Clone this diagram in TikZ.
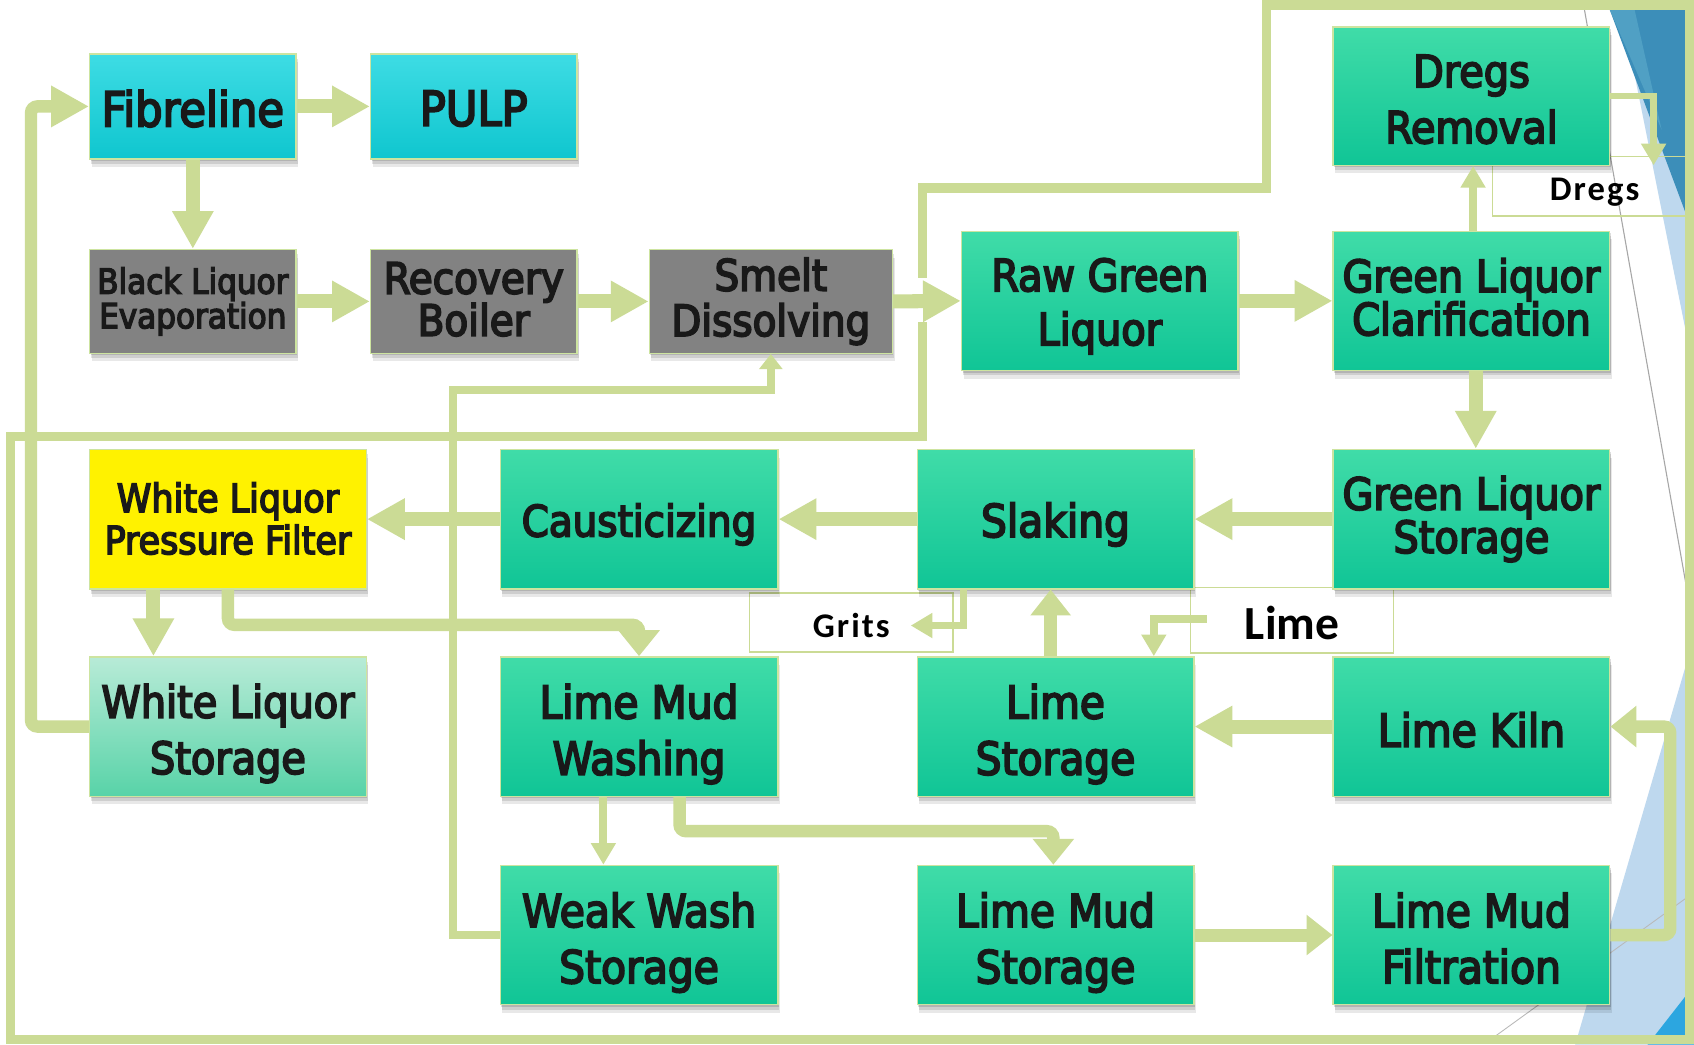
\documentclass[tikz,border=0pt]{standalone}
\usepackage{fontspec}
\usetikzlibrary{arrows.meta,shadows,calc}
\newfontfamily\boxfont{DejaVu Sans Condensed}[FakeBold=4]
\newfontfamily\lblfont{Carlito}[LetterSpace=6]
\newfontfamily\lblfontn{Carlito}
\newcommand\fs[2]{\boxfont\fontsize{#1}{#2}\selectfont}
\definecolor{lc}{RGB}{203,219,149}
\definecolor{bord}{RGB}{205,228,160}
\definecolor{tealtop}{RGB}{64,220,168}
\definecolor{tealbot}{RGB}{16,197,150}
\definecolor{cyantop}{RGB}{62,220,228}
\definecolor{cyanbot}{RGB}{15,198,207}
\definecolor{grayfill}{RGB}{130,130,130}
\definecolor{wltop}{RGB}{184,235,215}
\definecolor{wlbot}{RGB}{88,211,168}
\definecolor{dkblue}{RGB}{60,142,185}
\definecolor{mdblue}{RGB}{80,160,196}
\definecolor{ltblue}{RGB}{190,216,238}
\definecolor{brblue}{RGB}{44,166,224}
\definecolor{txtc}{RGB}{25,25,25}
\tikzset{
  shd/.style={
    general shadow={fill=black,opacity=.13,shadow xshift=1pt,shadow yshift=-2pt},
    general shadow={fill=black,opacity=.11,shadow xshift=1.5pt,shadow yshift=-4.5pt},
    general shadow={fill=black,opacity=.09,shadow xshift=2pt,shadow yshift=-7.5pt}},
  box/.style={rectangle, draw=bord, line width=1.3pt, inner sep=0pt, shd},
  tealbox/.style={box, top color=tealtop, bottom color=tealbot},
  cyanbox/.style={box, top color=cyantop, bottom color=cyanbot},
  graybox/.style={box, fill=grayfill},
  yelbox/.style={box, fill=yellow},
  wlbox/.style={box, top color=wltop, bottom color=wlbot},
  txt/.style={align=center, inner sep=0pt, text=txtc},
  lblbox/.style={rectangle, draw=lc, line width=1.3pt, inner sep=0pt},
  lbltext/.style={anchor=base, inner sep=0pt, text=black},
  conn/.style={draw=lc},
  thk/.style={conn, line width=13pt, -{Triangle[width=36pt,length=35pt]}},
  thks/.style={conn, line width=12pt, -{Triangle[width=36pt,length=24pt]}},
  med/.style={conn, line width=11.5pt, rounded corners=6pt, -{Triangle[width=37pt,length=24pt]}},
  thn/.style={conn, line width=7.5pt, -{Triangle[width=22pt,length=20pt]}},
  wwc/.style={conn, line width=7.5pt, -{Triangle[width=21pt,length=14pt]}},
  loopl/.style={draw=lc, line width=8.5pt},
}
\begin{document}
\begin{tikzpicture}[x=1pt,y=-1pt]
\useasboundingbox (0,0) rectangle (1568,967);
\fill[white] (0,0) rectangle (1568,967);
% background decorations
\fill[ltblue] (1501,9) -- (1568,9) -- (1568,345) -- cycle;
\fill[dkblue] (1490,9) -- (1568,9) -- (1568,218) -- cycle;
\fill[mdblue] (1490,9) -- (1513,9) -- (1538,120) -- cycle;
\fill[ltblue] (1568,590) -- (1568,967) -- (1458,967) -- cycle;
\fill[brblue] (1525,967) -- (1568,967) -- (1568,912) -- cycle;
\draw[gray!70, line width=1pt] (1465,0) -- (1568,583);
\draw[gray!55, line width=0.8pt] (1380,962) -- (1568,826);
% label boxes
\node[lblbox, minimum width=188pt, minimum height=54.6pt] (gritsbox) at (788,576.3) {};
\node[lblbox, minimum width=188pt, minimum height=60.6pt] (limebox) at (1196,574.3) {};
\node[lblbox, minimum width=180pt, minimum height=55pt] (dregsbox) at (1471.6,172.5) {};
% main boxes
\node[cyanbox, minimum width=191pt, minimum height=97pt] (fib) at (178.5,98.5) {};
\node[cyanbox, minimum width=191pt, minimum height=97pt] (pulp) at (438.5,98.5) {};
\node[graybox, minimum width=191pt, minimum height=96pt] (ble) at (178.5,279) {};
\node[graybox, minimum width=191pt, minimum height=96pt] (rb) at (438.5,279) {};
\node[graybox, minimum width=225pt, minimum height=96pt] (sd) at (713.5,279) {};
\node[tealbox, minimum width=256pt, minimum height=129pt] (rgl) at (1018,278.5) {};
\node[tealbox, minimum width=256pt, minimum height=129pt] (glc) at (1362,278.5) {};
\node[tealbox, minimum width=256pt, minimum height=128pt] (dregs) at (1362,89) {};
\node[tealbox, minimum width=256pt, minimum height=129pt] (gls) at (1362,480.5) {};
\node[tealbox, minimum width=256pt, minimum height=129pt] (slak) at (977,480.5) {};
\node[tealbox, minimum width=257pt, minimum height=129pt] (caus) at (591.5,480.5) {};
\node[yelbox, minimum width=256pt, minimum height=129pt] (wlpf) at (211,480.5) {};
\node[wlbox, minimum width=256pt, minimum height=129pt] (wls) at (211,672.5) {};
\node[tealbox, minimum width=257pt, minimum height=129pt] (lmw) at (591.5,672.5) {};
\node[tealbox, minimum width=256pt, minimum height=129pt] (ls) at (977,672.5) {};
\node[tealbox, minimum width=256pt, minimum height=129pt] (lk) at (1362,672.5) {};
\node[tealbox, minimum width=257pt, minimum height=129pt] (wws) at (591.5,865.5) {};
\node[tealbox, minimum width=256pt, minimum height=129pt] (lms) at (977,865.5) {};
\node[tealbox, minimum width=256pt, minimum height=129pt] (lmf) at (1362,865.5) {};
% box texts
\node[txt, font=\fs{44.5}{44.5}] (fibt) at (178.5,100.5) {Fibreline};
\node[txt, font=\fs{44.5}{44.5}] (pulpt) at (438.5,100.5) {PULP};
\node[txt, font=\fs{32}{32}] (blet) at (178.5,279) {Black Liquor\\Evaporation};
\node[txt, font=\fs{40}{39}] (rbt) at (438.5,277) {Recovery\\Boiler};
\node[txt, font=\fs{40}{42}] (sdt) at (713.5,279) {Smelt\\Dissolving};
\node[txt, font=\fs{41}{50}] (rglt) at (1018,283.5) {Raw Green\\Liquor};
\node[txt, font=\fs{41}{40}] (glct) at (1362,275) {Green Liquor\\Clarification};
\node[txt, font=\fs{41}{52}] (dregst) at (1362,92) {Dregs\\Removal};
\node[txt, font=\fs{41}{40}] (glst) at (1362,480.5) {Green Liquor\\Storage};
\node[txt, font=\fs{42}{42}] (slakt) at (977,485.5) {Slaking};
\node[txt, font=\fs{40}{40}] (caust) at (591.5,485.5) {Causticizing};
\node[txt, font=\fs{36}{39}] (wlpft) at (211,480) {White Liquor\\Pressure Filter};
\node[txt, font=\fs{41}{52}] (wlst) at (211,679) {White Liquor\\Storage};
\node[txt, font=\fs{42}{52}] (lmwt) at (591.5,679.5) {Lime Mud\\Washing};
\node[txt, font=\fs{42}{52}] (lst) at (977,679.5) {Lime\\Storage};
\node[txt, font=\fs{42}{42}] (lkt) at (1362,675.5) {Lime Kiln};
\node[txt, font=\fs{42}{52}] (wwst) at (591.5,872.5) {Weak Wash\\Storage};
\node[txt, font=\fs{42}{52}] (lmst) at (977,872.5) {Lime Mud\\Storage};
\node[txt, font=\fs{42}{52}] (lmft) at (1362,868.5) {Lime Mud\\Filtration};
% helper coordinates
\coordinate (wlx) at (28.7,675);
\coordinate (rk) at (1546,0);
\coordinate (ww1) at (419,361);
\coordinate (dgc) at (1530.6,153);
\coordinate (gtip) at (843,579);
\coordinate (lms0) at (1117,573);
\coordinate (lp1) at (854,257);
\coordinate (lp2) at (854,174);
\coordinate (lp3) at (1172,174);
\coordinate (lp4) at (1172,4.6);
\coordinate (lp5) at (1564,4.6);
\coordinate (lp6) at (1564,962);
\coordinate (lp7) at (9.5,962);
\coordinate (lp8) at (9.5,404);
\coordinate (lp9) at (854,404);
\coordinate (lp10) at (854,298);
% big loop line
\draw[loopl] (lp1) -- (lp2) -- (lp3) -- (lp4) -- (lp5) -- (lp6) -- (lp7) -- (lp8) -- (lp9) -- (lp10);
% connectors
\draw[thk] (fib.east) -- (pulp.west);
\draw[thk] (fib.south) -- (ble.north);
\draw[thk] (ble.east) -- (rb.west);
\draw[thk] (rb.east) -- (sd.west);
\draw[thk] (sd.east) -- (rgl.west);
\draw[thk] (rgl.east) -- (glc.west);
\draw[thn] ([xshift=1.5pt]glc.north) -- ([xshift=1.5pt]dregs.south);
\draw[thk] ([xshift=4pt]glc.south) -- ([xshift=4pt]gls.north);
\draw[thk] (gls.west) -- (slak.east);
\draw[thk] (slak.west) -- (caus.east);
\draw[thk] (caus.west) -- (wlpf.east);
\draw[thk] ([xshift=-69pt]wlpf.south) -- ([xshift=-69pt]wls.north);
\draw[med] (wlpf.south) |- ([yshift=29pt]lmw.north) -- (lmw.north);
\draw[med, -{Triangle[width=36pt,length=35pt]}] (wls.west) -| (wlx |- fib.west) -- (fib.west);
\draw[thk] (lk.west) -- (ls.east);
\draw[thks] ([xshift=-4.5pt]ls.north) -- ([xshift=-4.5pt]slak.south);
\draw[thn] ([xshift=-33pt]lmw.south) -- ([xshift=-33pt]wws.north);
\draw[med] ([xshift=37.5pt]lmw.south) |- ([xshift=-2pt,yshift=31pt]lms.north) -- ([xshift=-2pt]lms.north);
\draw[thks] (lms.east) -- (lmf.west);
\draw[med] (lmf.east) -| (rk |- lk.east) -- (lk.east);
\draw[wwc] (wws.west) -| (ww1) -| (sd.south);
\draw[thn, line width=6pt] (dregs.east) -| (dgc);
\draw[thn, line width=7pt] ([xshift=-85pt]slak.south) |- (gtip);
\draw[thn] (lms0) -| ([xshift=91pt]ls.north);
% label texts
\node[lbltext, font=\lblfont\bfseries\fontsize{32}{32}\selectfont] (grits) at (788,590) {Grits};
\node[lbltext, font=\lblfontn\bfseries\fontsize{44}{44}\selectfont] (lime) at (1196,592) {Lime};
\node[lbltext, font=\lblfont\bfseries\fontsize{32}{32}\selectfont] (dregsl) at (1476,186) {Dregs};
\end{tikzpicture}
\end{document}
